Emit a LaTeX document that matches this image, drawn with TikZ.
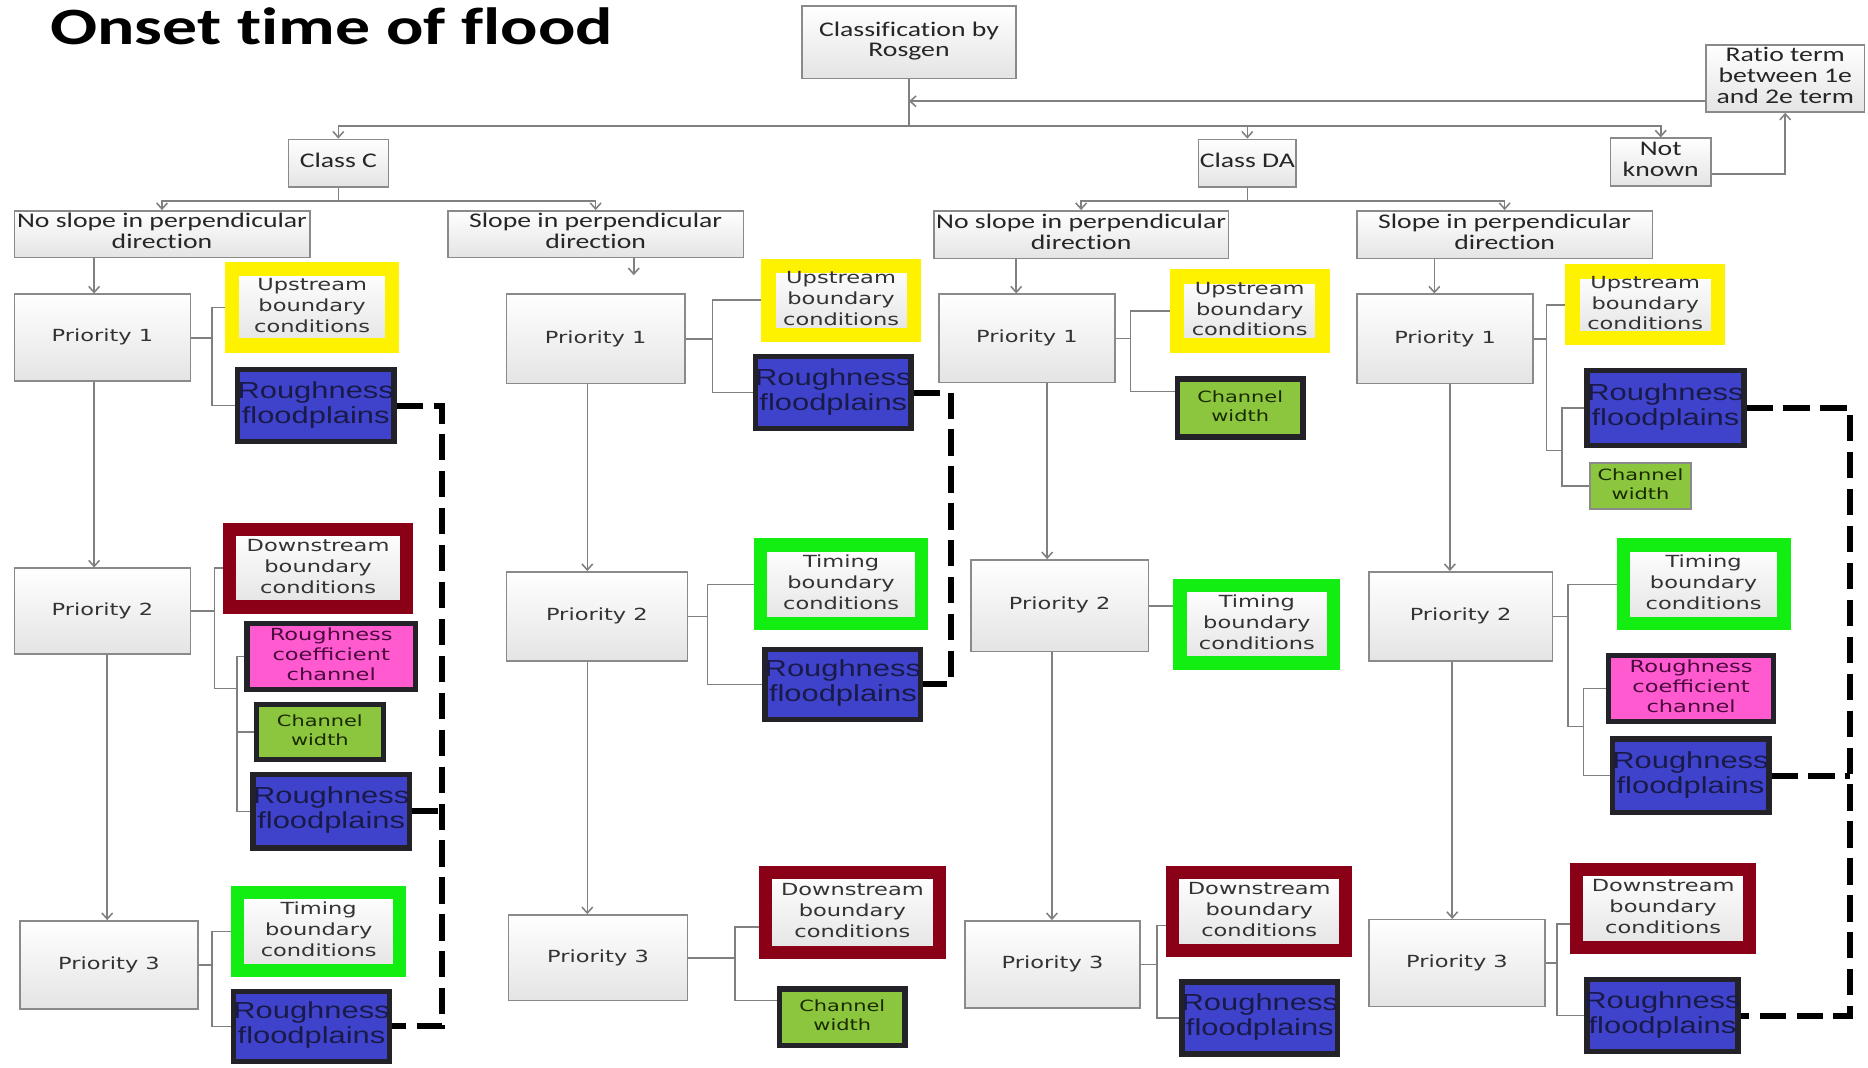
\documentclass[tikz,border=0pt]{standalone}
\usepackage{fontspec}
\usetikzlibrary{arrows.meta,calc}

\newfontfamily\calfont[FakeStretch=1.33, Ligatures={NoCommon}]{Carlito}
\newfontfamily\verfont[FakeStretch=1.35]{DejaVu Sans}
\newfontfamily\arfont[FakeStretch=1.33]{Liberation Sans}

\definecolor{boxgray}{HTML}{8A8A8A}
\definecolor{boxbot}{HTML}{E4E4E4}
\definecolor{lnk}{HTML}{808080}
\definecolor{txtgray}{HTML}{333333}
\definecolor{txtdark}{HTML}{262626}
\definecolor{ylw}{HTML}{FFF200}
\definecolor{dred}{HTML}{8A0016}
\definecolor{lgreen}{HTML}{12EE12}
\definecolor{bfill}{HTML}{3F43CC}
\definecolor{bedge}{HTML}{222228}
\definecolor{btxt}{HTML}{1A1A48}
\definecolor{pfill}{HTML}{FF5AD0}
\definecolor{ptxt}{HTML}{4A0A3C}
\definecolor{gfill}{HTML}{8CC63F}
\definecolor{gtxt}{HTML}{1A2A00}

% multi-line centred text that never widens its box
\newcommand\ml[1]{\makebox[0pt]{\begin{tabular}{@{}c@{}}#1\end{tabular}}}
% box given by its corners: name, style, x1, y1, x2, y2, text
\newcommand\mkbox[7]{\node[#2, minimum width={(#5)-(#3)}, minimum height={(#6)-(#4)}]
  (#1) at ({((#3)+(#5))/2},{((#4)+(#6))/2}) {\ml{#7}};}
% same, with a frame of given width kept inside the corners
\newcommand\mkframe[8]{\node[#2, line width=#8, minimum width={(#5)-(#3)-(#8)}, minimum height={(#6)-(#4)-(#8)}]
  (#1) at ({((#3)+(#5))/2},{((#4)+(#6))/2}) {\ml{#7}};}

\tikzset{
  gfill/.style={top color=white, bottom color=boxbot},
  cbox/.style={draw=boxgray, line width=1.3, gfill, inner sep=0,
    font=\calfont\fontsize{17.5}{17.5}\selectfont, text=txtdark},
  pbox/.style={draw=boxgray, line width=1.3, gfill, inner sep=0,
    font=\verfont\fontsize{14}{17.5}\selectfont, text=txtgray},
  upbox/.style={draw=ylw, gfill, inner sep=0,
    font=\verfont\fontsize{14}{17.5}\selectfont, text=txtgray},
  dnbox/.style={draw=dred, gfill, inner sep=0,
    font=\verfont\fontsize{14}{17.5}\selectfont, text=txtgray},
  tmbox/.style={draw=lgreen, gfill, inner sep=0,
    font=\verfont\fontsize{14}{17.5}\selectfont, text=txtgray},
  rfbox/.style={draw=bedge, fill=bfill, inner sep=0,
    font=\arfont\fontsize{19.5}{21}\selectfont, text=btxt},
  rcbox/.style={draw=bedge, fill=pfill, inner sep=0,
    font=\verfont\fontsize{14}{16.5}\selectfont, text=ptxt},
  cwbox/.style={draw=bedge, fill=gfill, inner sep=0,
    font=\verfont\fontsize{13}{16}\selectfont, text=gtxt},
  cwthin/.style={draw=boxgray, fill=gfill, inner sep=0,
    font=\verfont\fontsize{13}{16}\selectfont, text=gtxt},
  conn/.style={draw=lnk, line width=1.3},
  arr/.style={conn, -{Straight Barb[length=5pt,width=9pt]}},
  dashln/.style={line width=5, dash pattern=on 22pt off 9pt, black},
}

\begin{document}
\begin{tikzpicture}[x=1pt, y=-1pt]
\path[fill=white] (0,0) rectangle (1568,896);
\useasboundingbox (0,0) rectangle (1568,896);

\node[anchor=base west, inner sep=0, font=\calfont\bfseries\fontsize{44}{44}\selectfont] (title) at (42,37) {Onset time of flood};

% ---------- upper levels ----------
\mkbox{cls}{cbox}{673}{5}{853}{66}{Classification by\\Rosgen}
\mkbox{ratio}{cbox}{1432}{38}{1565}{94}{Ratio term\\between 1e\\and 2e term}
\mkbox{classC}{cbox}{242}{117}{326}{157}{Class C}
\mkbox{classDA}{cbox}{1006}{117}{1088}{157}{Class DA}
\mkbox{unknown}{cbox}{1352}{116}{1436}{156}{Not\\known}
\mkbox{nsC}{cbox}{12}{177}{260}{216}{No slope in perpendicular\\direction}
\mkbox{sC}{cbox}{376}{177}{624}{216}{Slope in perpendicular\\direction}
\mkbox{nsD}{cbox}{784}{177}{1031}{217}{No slope in perpendicular\\direction}
\mkbox{sD}{cbox}{1139}{177}{1387}{217}{Slope in perpendicular\\direction}

% ---------- column A: class C, no slope ----------
\mkbox{pa1}{pbox}{12}{247}{160}{320}{Priority 1}
\mkframe{upa1}{upbox}{189}{220}{335}{296}{Upstream\\boundary\\conditions}{12}
\mkframe{rfa1}{rfbox}{197}{308}{333}{373}{Roughness\\floodplains}{4.5}
\mkbox{pa2}{pbox}{12}{477}{160}{549}{Priority 2}
\mkframe{dsa2}{dnbox}{187}{439}{347}{515}{Downstream\\boundary\\conditions}{11}
\mkframe{rca2}{rcbox}{205}{521}{351}{581}{Roughness\\coefficient\\channel}{4.5}
\mkframe{cwa2}{cwbox}{213}{589}{324}{640}{Channel\\width}{4.5}
\mkframe{rfa2}{rfbox}{210}{648}{346}{714}{Roughness\\floodplains}{4.5}
\mkbox{pa3}{pbox}{17}{773}{166}{847}{Priority 3}
\mkframe{tma3}{tmbox}{194}{744}{341}{820}{Timing\\boundary\\conditions}{11}
\mkframe{rfa3}{rfbox}{194}{830}{329}{893}{Roughness\\floodplains}{4.5}

% ---------- column B: class C, slope ----------
\mkbox{pb1}{pbox}{425}{247}{575}{322}{Priority 1}
\mkframe{upb1}{upbox}{639}{217}{773}{287}{Upstream\\boundary\\conditions}{12}
\mkframe{rfb1}{rfbox}{632}{297}{767}{362}{Roughness\\floodplains}{4.5}
\mkbox{pb2}{pbox}{425}{480}{577}{555}{Priority 2}
\mkframe{tmb2}{tmbox}{633}{452}{779}{529}{Timing\\boundary\\conditions}{11}
\mkframe{rfb2}{rfbox}{640}{543}{775}{606}{Roughness\\floodplains}{4.5}
\mkbox{pb3}{pbox}{427}{768}{577}{840}{Priority 3}
\mkframe{dsb3}{dnbox}{637}{727}{794}{805}{Downstream\\boundary\\conditions}{11}
\mkframe{cwb3}{cwbox}{652}{828}{762}{880}{Channel\\width}{4.5}

% ---------- column C: class DA, no slope ----------
\mkbox{pc1}{pbox}{788}{247}{936}{321}{Priority 1}
\mkframe{upc1}{upbox}{982}{226}{1116}{296}{Upstream\\boundary\\conditions}{12}
\mkframe{cwc1}{cwbox}{986}{316}{1096}{369}{Channel\\width}{4.5}
\mkbox{pc2}{pbox}{815}{470}{964}{547}{Priority 2}
\mkframe{tmc2}{tmbox}{985}{486}{1125}{562}{Timing\\boundary\\conditions}{11}
\mkbox{pc3}{pbox}{810}{773}{957}{846}{Priority 3}
\mkframe{dsc3}{dnbox}{979}{727}{1135}{803}{Downstream\\boundary\\conditions}{11}
\mkframe{rfc3}{rfbox}{990}{822}{1125}{887}{Roughness\\floodplains}{4.5}

% ---------- column D: class DA, slope ----------
\mkbox{pd1}{pbox}{1139}{247}{1287}{322}{Priority 1}
\mkframe{upd1}{upbox}{1314}{222}{1448}{290}{Upstream\\boundary\\conditions}{12}
\mkframe{rfd1}{rfbox}{1330}{309}{1466}{376}{Roughness\\floodplains}{4.5}
\mkframe{cwd1}{cwthin}{1334}{388}{1420}{428}{Channel\\width}{1.5}
\mkbox{pd2}{pbox}{1149}{480}{1303}{555}{Priority 2}
\mkframe{tmd2}{tmbox}{1357}{452}{1503}{529}{Timing\\boundary\\conditions}{11}
\mkframe{rcd2}{rcbox}{1348}{548}{1491}{608}{Roughness\\coefficient\\channel}{4.5}
\mkframe{rfd2}{rfbox}{1351}{618}{1487}{684}{Roughness\\floodplains}{4.5}
\mkbox{pd3}{pbox}{1149}{772}{1297}{845}{Priority 3}
\mkframe{dsd3}{dnbox}{1318}{724}{1474}{801}{Downstream\\boundary\\conditions}{11}
\mkframe{rfd3}{rfbox}{1330}{820}{1461}{885}{Roughness\\floodplains}{4.5}

% ---------- upper connectors ----------
\draw[arr] (cls.south) -- ++(0,39) -| (classC.north);
\draw[arr] (cls.south) -- ++(0,39) -| (classDA.north);
\draw[arr] (cls.south) -- ++(0,39) -| (unknown.north);
\coordinate (rj) at (763,85);
\draw[arr] (ratio.west |- rj) -- (rj);
\draw[arr] ([yshift=-10pt]unknown.east) -| (ratio.south);
\draw[arr] (classC.south) -- ++(0,11) -| (nsC.north);
\draw[arr] (classC.south) -- ++(0,11) -| (sC.north);
\draw[arr] (classDA.south) -- ++(0,11) -| (nsD.north);
\draw[arr] (classDA.south) -- ++(0,11) -| (sD.north);

% ---------- column A connectors ----------
\coordinate (xa1) at (79,0);
\coordinate (xa2) at (90,0);
\draw[arr] (xa1 |- nsC.south) -- (xa1 |- pa1.north);
\draw[arr] (xa1 |- pa1.south) -- (xa1 |- pa2.north);
\draw[arr] (xa2 |- pa2.south) -- (xa2 |- pa3.north);

\coordinate (ja1) at (178,0);
\draw[conn] (pa1.east) -- (pa1.east -| ja1);
\draw[conn] (upa1.west) -- (upa1.west -| ja1) -- (rfa1.west -| ja1) -- (rfa1.west);

\coordinate (ja2) at (180,0);
\coordinate (ka2) at (199,578);
\draw[conn] (pa2.east) -- (pa2.east -| ja2);
\draw[conn] (dsa2.west) -- (dsa2.west -| ja2) -- (ja2 |- ka2) -- (ka2);
\draw[conn] (rca2.west) -- (rca2.west -| ka2) -- (rfa2.west -| ka2) -- (rfa2.west);
\draw[conn] (cwa2.west) -- (cwa2.west -| ka2);

\coordinate (ja3) at (178,0);
\draw[conn] (pa3.east) -- (pa3.east -| ja3);
\draw[conn] (tma3.west) -- (tma3.west -| ja3) -- (rfa3.west -| ja3) -- (rfa3.west);

\coordinate (da) at (371,0);
\draw[dashln] (rfa1.east) -- (rfa1.east -| da) |- (rfa3.east);
\draw[dashln] (rfa2.east) -- (rfa2.east -| da);

% ---------- column B connectors ----------
\coordinate (bt) at (532,231);
\draw[arr] (bt |- sC.south) -- (bt);
\coordinate (xb1) at (493,0);
\draw[arr] (xb1 |- pb1.south) -- (xb1 |- pb2.north);
\draw[arr] (xb1 |- pb2.south) -- (xb1 |- pb3.north);

\coordinate (jb1) at (598,0);
\draw[conn] (pb1.east) -- (pb1.east -| jb1);
\draw[conn] (upb1.west) -- (upb1.west -| jb1) -- (rfb1.west -| jb1) -- (rfb1.west);

\coordinate (jb2) at (594,0);
\draw[conn] (pb2.east) -- (pb2.east -| jb2);
\draw[conn] (tmb2.west) -- (tmb2.west -| jb2) -- (rfb2.west -| jb2) -- (rfb2.west);

\coordinate (jb3) at (617,0);
\coordinate (b3u) at ([yshift=-12pt]dsb3.west);
\coordinate (b3d) at ([yshift=14pt]cwb3.west);
\draw[conn] (pb3.east) -- (pb3.east -| jb3);
\draw[conn] (b3u) -- (b3u -| jb3) -- (b3d -| jb3) -- (b3d);

\coordinate (db) at (798,0);
\draw[dashln] (rfb1.east) -- (rfb1.east -| db) |- (rfb2.east);

% ---------- column C connectors ----------
\coordinate (xc0) at (853,0);
\coordinate (xc1) at (879,0);
\coordinate (xc2) at (883,0);
\draw[arr] (xc0 |- nsD.south) -- (xc0 |- pc1.north);
\draw[arr] (xc1 |- pc1.south) -- (xc1 |- pc2.north);
\draw[arr] (xc2 |- pc2.south) -- (xc2 |- pc3.north);

\coordinate (jc1) at (949,0);
\coordinate (c1d) at ([yshift=14pt]cwc1.west);
\draw[conn] (pc1.east) -- (pc1.east -| jc1);
\draw[conn] (upc1.west) -- (upc1.west -| jc1) -- (c1d -| jc1) -- (c1d);

\draw[conn] (pc2.east) -- (pc2.east -| tmc2.west);

\coordinate (jc3) at (971,0);
\coordinate (c3u) at ([yshift=-12pt]dsc3.west);
\draw[conn] (pc3.east) -- (pc3.east -| jc3);
\draw[conn] (c3u) -- (c3u -| jc3) -- (rfc3.west -| jc3) -- (rfc3.west);

% ---------- column D connectors ----------
\coordinate (xd0) at (1204,0);
\coordinate (xd1) at (1217,0);
\coordinate (xd2) at (1219,0);
\draw[arr] (xd0 |- sD.south) -- (xd0 |- pd1.north);
\draw[arr] (xd1 |- pd1.south) -- (xd1 |- pd2.north);
\draw[arr] (xd2 |- pd2.south) -- (xd2 |- pd3.north);

\coordinate (jd1) at (1298,0);
\coordinate (kd1) at (1311,378);
\draw[conn] (pd1.east) -- (pd1.east -| jd1);
\draw[conn] (upd1.west) -- (upd1.west -| jd1) -- (jd1 |- kd1) -- (kd1);
\draw[conn] (rfd1.west) -- (rfd1.west -| kd1) -- (cwd1.west -| kd1) -- (cwd1.west);

\coordinate (jd2) at (1316,0);
\coordinate (kd2) at (1329,610);
\draw[conn] (pd2.east) -- (pd2.east -| jd2);
\draw[conn] (tmd2.west) -- (tmd2.west -| jd2) -- (jd2 |- kd2) -- (kd2);
\draw[conn] (rcd2.west) -- (rcd2.west -| kd2) -- (rfd2.west -| kd2) -- (rfd2.west);

\coordinate (jd3) at (1307,0);
\coordinate (d3u) at ([yshift=-13pt]dsd3.west);
\draw[conn] (pd3.east) -- (pd3.east -| jd3);
\draw[conn] (d3u) -- (d3u -| jd3) -- (rfd3.west -| jd3) -- (rfd3.west);

\coordinate (dd) at (1553,0);
\draw[dashln] (rfd1.east) -- (rfd1.east -| dd) |- (rfd3.east);
\draw[dashln] (rfd2.east) -- (rfd2.east -| dd);
\end{tikzpicture}
\end{document}
